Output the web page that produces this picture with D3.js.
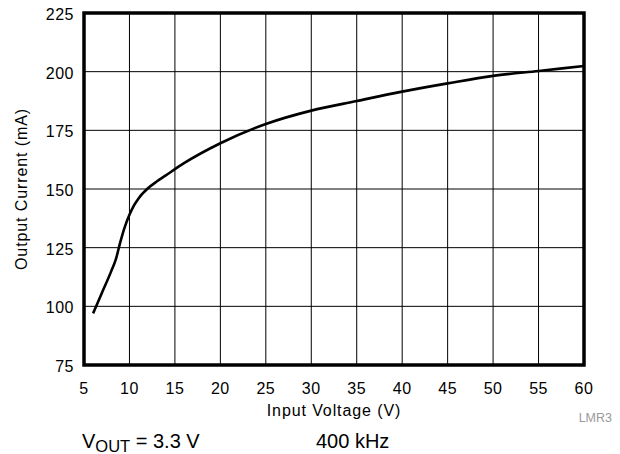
<!DOCTYPE html>
<html>
<head>
<meta charset="utf-8">
<script src="https://cdn.jsdelivr.net/npm/d3@7"></script>
<style>
  body { margin: 0; background: #fff; }
  text { font-family: "Liberation Sans", Arial, Helvetica, sans-serif; fill: #000; }
</style>
</head>
<body>
<div class="chart"></div>
<script>
// input voltage (V) vs output current (mA)
var vin  = [6, 7, 8, 8.5, 9, 9.5, 10, 10.5, 11, 12, 13, 14, 16, 20, 25, 30, 35, 40, 45, 50, 55, 60];
var iout = [97, 106, 115, 120, 127.5, 134, 139, 143, 146, 150.2, 153.2, 155.8, 161, 169.5, 177.7, 183.4, 187.5, 191.5, 195, 198.2, 200.3, 202.4];

var xTicks = [5, 10, 15, 20, 25, 30, 35, 40, 45, 50, 55, 60];
var yTicks = [75, 100, 125, 150, 175, 200, 225];

var margin = {top: 13, right: 36, bottom: 89, left: 84},
  width = 620 - margin.left - margin.right,
  height = 454 - margin.top - margin.bottom;

var svg = d3.select(".chart")
.append("svg")
  .attr("width", 620)
  .attr("height", 454);

var g = svg.append("g")
  .attr("transform", "translate(" + margin.left + "," + margin.top + ")");

var x = d3.scaleLinear().domain([5, 60]).range([0, width]);
var y = d3.scaleLinear().domain([75, 225]).range([height, 0]);

// grid
g.selectAll(".vgrid")
  .data(xTicks.slice(1, -1))
  .enter().append("line")
  .attr("x1", d => x(d)).attr("x2", d => x(d))
  .attr("y1", 0).attr("y2", height)
  .attr("stroke", "#000").attr("stroke-width", 1);

g.selectAll(".hgrid")
  .data(yTicks.slice(1, -1))
  .enter().append("line")
  .attr("x1", 0).attr("x2", width)
  .attr("y1", d => y(d)).attr("y2", d => y(d))
  .attr("stroke", "#000").attr("stroke-width", 1);

// tick labels
g.selectAll(".xlab")
  .data(xTicks)
  .enter().append("text")
  .attr("x", d => x(d))
  .attr("y", height + 28.5)
  .attr("text-anchor", "middle")
  .style("font-size", "16px")
  .style("letter-spacing", "0.5px")
  .text(d => d);

g.selectAll(".ylab")
  .data(yTicks)
  .enter().append("text")
  .attr("x", -10)
  .attr("y", d => y(d) + 7)
  .attr("text-anchor", "end")
  .style("font-size", "16px")
  .style("letter-spacing", "0.5px")
  .text(d => d);

// curve
var line = d3.line()
  .x((d, i) => x(vin[i]))
  .y(d => y(d))
  .curve(d3.curveMonotoneX);

g.append("path")
  .datum(iout)
  .attr("d", line)
  .attr("fill", "none")
  .attr("stroke", "#000")
  .attr("stroke-width", 2.6);

// frame
g.append("rect")
  .attr("x", 0).attr("y", 0)
  .attr("width", width).attr("height", height)
  .attr("fill", "none")
  .attr("stroke", "#000")
  .attr("stroke-width", 3.5);

// axis titles
g.append("text")
  .attr("x", width / 2)
  .attr("y", height + 51)
  .attr("text-anchor", "middle")
  .style("font-size", "16px")
  .style("letter-spacing", "0.9px")
  .text("Input Voltage (V)");

g.append("text")
  .attr("transform", "translate(" + (27 - margin.left) + "," + (height / 2) + ") rotate(-90)")
  .attr("text-anchor", "middle")
  .style("font-size", "16px")
  .style("letter-spacing", "0.9px")
  .text("Output Current (mA)");

svg.append("text")
  .attr("x", 612)
  .attr("y", 421.5)
  .attr("text-anchor", "end")
  .style("font-size", "12.5px")
  .style("fill", "#999")
  .text("LMR3");

// conditions
var vout = svg.append("text")
  .attr("x", 82)
  .attr("y", 447.5)
  .style("font-size", "20px");
vout.append("tspan").text("V");
vout.append("tspan").attr("dy", 4).style("font-size", "16.5px").text("OUT");
vout.append("tspan").attr("dy", -4).text(" = 3.3 V");

svg.append("text")
  .attr("x", 316)
  .attr("y", 448)
  .style("font-size", "20px")
  .text("400 kHz");
</script>
</body>
</html>
